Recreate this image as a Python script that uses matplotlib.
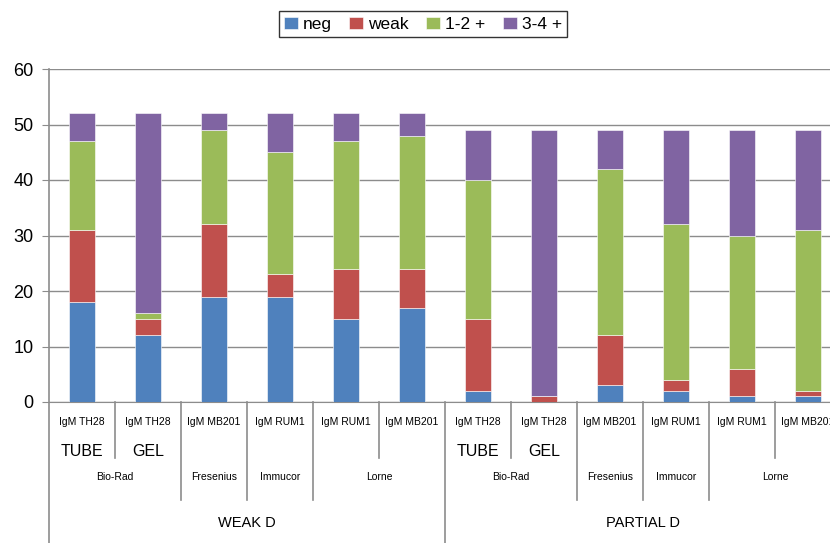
import matplotlib.pyplot as plt
import matplotlib.transforms as mtransforms
import numpy as np

plt.rcParams['font.family'] = ['Liberation Sans', 'DejaVu Sans']

# categories (two groups of six)
antibodies = ['IgM TH28', 'IgM TH28', 'IgM MB201', 'IgM RUM1', 'IgM RUM1', 'IgM MB201'] * 2
methods = ['TUBE', 'GEL', '', '', '', ''] * 2
makers = ['Bio-Rad', 'Fresenius', 'Immucor', 'Lorne']
maker_span = [(0, 1), (2, 2), (3, 3), (4, 5)]
groups = ['WEAK D', 'PARTIAL D']

# series values
neg = [18, 12, 19, 19, 15, 17, 2, 0, 3, 2, 1, 1]
weak = [13, 3, 13, 4, 9, 7, 13, 1, 9, 2, 5, 1]
mid = [16, 1, 17, 22, 23, 24, 25, 0, 30, 28, 24, 29]
high = [5, 36, 3, 7, 5, 4, 9, 48, 7, 17, 19, 18]
series_names = ['neg', 'weak', '1-2 +', '3-4 +']
colors = ['#4F81BD', '#C0504D', '#9BBB59', '#8064A2']

fig = plt.figure(figsize=(8.3, 5.43), dpi=100)
ax = fig.add_axes([49/830, 141/543, 792/830, 333/543])

x = np.arange(len(neg))
bottom = np.zeros(len(neg))
for vals, name, c in zip([neg, weak, mid, high], series_names, colors):
    ax.bar(x, vals, 0.4, bottom=bottom, color=c, label=name,
           edgecolor='white', linewidth=0.4, zorder=3)
    bottom += np.array(vals)

ax.set_xlim(-0.5, 11.5)
ax.set_ylim(0, 60)
ax.set_yticks(range(0, 61, 10))
ax.tick_params(axis='y', labelsize=13, length=5, color='#8c8c8c', pad=6)
ax.set_xticks([])
ax.grid(axis='y', color='#8c8c8c', linewidth=1, zorder=0)
for s in ['top', 'right']:
    ax.spines[s].set_visible(False)
ax.spines['left'].set_visible(False)
ax.spines['bottom'].set_color('#8c8c8c')

# multi-level category axis
tr = mtransforms.blended_transform_factory(ax.transData, ax.transAxes)
def fy(py):
    return (402 - py) / 333

line_kw = dict(color='#8c8c8c', linewidth=1.2, transform=tr, clip_on=False)
for i in range(len(antibodies)):
    ax.text(i, fy(422), antibodies[i], transform=tr, ha='center', va='center', fontsize=7.5)
    if methods[i]:
        ax.text(i, fy(451), methods[i], transform=tr, ha='center', va='center', fontsize=11.5)

for g in range(2):
    off = g * 6
    for name, (a, b) in zip(makers, maker_span):
        ax.text(off + (a + b) / 2, fy(477), name, transform=tr, ha='center', va='center', fontsize=7.5)
    ax.text(off + 2.5, fy(523), groups[g], transform=tr, ha='center', va='center', fontsize=10.5)
    for k in range(1, 6):
        xb = off + k - 0.5
        short = k in (1, 5)
        ax.plot([xb, xb], [0, fy(458 if short else 500)], **line_kw)
    ax.plot([off - 0.5, off - 0.5], [1 if g == 0 else 0, fy(543)], **line_kw)
ax.plot([11.5, 11.5], [0, fy(543)], **line_kw)

fig.legend(loc='upper center', bbox_to_anchor=(423/830, 0.995), ncol=4, fontsize=12.5,
           frameon=True, fancybox=False, edgecolor='black', handlelength=0.8,
           handletextpad=0.3, columnspacing=1.0, borderpad=0.3)

fig.savefig('out.png', dpi=100)
